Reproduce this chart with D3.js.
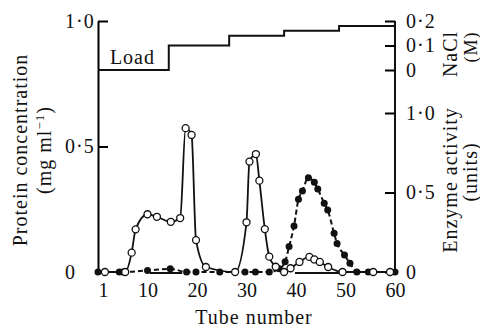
<!DOCTYPE html>
<html lang="en">
<head>
    <meta charset="UTF-8">
    <title>Ion-exchange elution profile</title>
    <script src="https://d3js.org/d3.v7.min.js"></script>
    <style>
        body { margin: 0; background: #fff; }
        text { font-family: "Liberation Serif", "DejaVu Serif", serif; fill: #111; }
    </style>
</head>
<body>
    <svg id="chart" width="480" height="329"></svg>

    <script>
        // protein (open circles, solid line)
        const proteinTube = [1.4, 5.5, 6.8, 7.6, 10, 11.9, 14.7, 16.6, 17.7, 18.9, 19.8, 21.8, 27.7,
                             30, 30.6, 31.9, 32.6, 33.7, 34.6, 35.9, 37.6, 38.9, 40.7, 42.7, 43.7,
                             44.8, 46.5, 49.4, 55.6, 59];
        const proteinConc = [0, 0, 0.077, 0.17, 0.23, 0.22, 0.2, 0.215, 0.573, 0.546, 0.127, 0.02, 0,
                             0.198, 0.44, 0.47, 0.364, 0.171, 0.061, 0.021, 0, 0.015, 0.04, 0.06, 0.05,
                             0.04, 0.02, 0, 0, 0];

        // enzyme activity (filled circles, dashed line)
        const enzymeTube = [0, 4.3, 5, 10, 14.6, 17.9, 19.8, 24.6, 29.7, 31.8, 34.6, 36.6, 37.8, 38.6,
                            39.6, 40.5, 41.3, 42.5, 43.7, 44.4, 45.7, 46.4, 47.7, 48.3, 49.8, 50.9,
                            52.3, 54.6, 60];
        const enzymeAct = [0, 0, 0, 0.01, 0.02, 0, 0, 0, 0, 0, 0, 0.02, 0.065, 0.16,
                           0.29, 0.457, 0.51, 0.593, 0.564, 0.522, 0.432, 0.39, 0.243, 0.18, 0.107, 0.055,
                           0, 0, 0];

        // NaCl step gradient
        const naclTube = [0, 14.3, 26.5, 37.6, 48.7, 60];
        const naclConc = [0, 0.1, 0.14, 0.16, 0.18, 0.18];

        // pooled fractions bars
        const pools = [[10.5, 17], [39.8, 48.9]];

        const tubeTicks = [1, 10, 20, 30, 40, 50, 60];
        const proteinTicks = [0, 0.5, 1.0];
        const enzymeTicks = [0, 0.5, 1.0];
        const naclTicks = [0, 0.1, 0.2];

        const svg = d3.select("#chart");
        const fmt = d => d === 0 ? "0" : d3.format(".1f")(d).replace(".", "·");

        const x = d3.scaleLinear().domain([0, 60]).range([98, 395]);
        const yProt = d3.scaleLinear().domain([0, 1]).range([272, 21]);
        const yEnz = d3.scaleLinear().domain([0, 1]).range([272, 113]);
        const yNacl = d3.scaleLinear().domain([0, 0.2]).range([70, 21]);

        // left axis
        const leftAxis = svg.append("g")
            .attr("transform", `translate(${x(0)},0)`)
            .call(d3.axisLeft(yProt).tickValues(proteinTicks).tickSize(-10).tickSizeOuter(0).tickFormat(fmt));
        leftAxis.select(".domain").attr("stroke-width", 2);
        leftAxis.selectAll(".tick line").attr("stroke-width", 2);
        leftAxis.selectAll(".tick text")
            .attr("x", 65 - x(0)).attr("text-anchor", "start")
            .style("font-size", "20px").style("letter-spacing", "1px");

        // right axis line
        svg.append("line")
            .attr("x1", x(60)).attr("x2", x(60))
            .attr("y1", yProt(0)).attr("y2", yProt(1))
            .attr("stroke", "#111").attr("stroke-width", 2);

        function rightAxis(scale, ticks) {
            const g = svg.append("g")
                .attr("transform", `translate(${x(60)},0)`)
                .call(d3.axisRight(scale).tickValues(ticks).tickSize(-10).tickSizeOuter(0).tickFormat(fmt));
            g.select(".domain").remove();
            g.selectAll(".tick line").attr("stroke-width", 2);
            g.selectAll(".tick text")
                .attr("x", 11).attr("text-anchor", "start")
                .style("font-size", "20px").style("letter-spacing", "1px");
        }
        rightAxis(yNacl, naclTicks);
        rightAxis(yEnz, enzymeTicks);

        // bottom tick labels only
        const bottom = svg.append("g")
            .attr("transform", `translate(0,${yProt(0)})`)
            .call(d3.axisBottom(x).tickValues(tubeTicks).tickSize(0).tickFormat(d3.format("d")));
        bottom.select(".domain").remove();
        bottom.selectAll(".tick text")
            .attr("y", 25).attr("dy", 0)
            .style("font-size", "20px");

        // NaCl gradient
        const naclLine = d3.line()
            .x((d, i) => x(naclTube[i]))
            .y(d => yNacl(d))
            .curve(d3.curveStepAfter);
        svg.append("path")
            .datum(naclConc)
            .attr("d", naclLine)
            .attr("fill", "none").attr("stroke", "#111").attr("stroke-width", 2);

        svg.append("text")
            .attr("x", x(2.4)).attr("y", yNacl(0) - 6)
            .style("font-size", "20px").style("letter-spacing", "1px")
            .text("Load");

        // pooled bars
        svg.selectAll("line.pool").data(pools).join("line")
            .attr("class", "pool")
            .attr("x1", d => x(d[0])).attr("x2", d => x(d[1]))
            .attr("y1", yProt(0) + 1).attr("y2", yProt(0) + 1)
            .attr("stroke", "#111").attr("stroke-width", 2);

        // enzyme
        const enzLine = d3.line()
            .x((d, i) => x(enzymeTube[i]))
            .y(d => yEnz(d))
            .curve(d3.curveMonotoneX);
        svg.append("path")
            .datum(enzymeAct)
            .attr("d", enzLine)
            .attr("fill", "none").attr("stroke", "#111")
            .attr("stroke-width", 2).attr("stroke-dasharray", "5,3");
        svg.selectAll("circle.enz").data(enzymeAct).join("circle")
            .attr("class", "enz")
            .attr("cx", (d, i) => x(enzymeTube[i]))
            .attr("cy", d => yEnz(d))
            .attr("r", 3.5)
            .attr("fill", "#111");

        // protein
        const protLine = d3.line()
            .x((d, i) => x(proteinTube[i]))
            .y(d => yProt(d))
            .curve(d3.curveMonotoneX);
        svg.append("path")
            .datum(proteinConc)
            .attr("d", protLine)
            .attr("fill", "none").attr("stroke", "#111").attr("stroke-width", 1.8);
        svg.selectAll("circle.prot").data(proteinConc).join("circle")
            .attr("class", "prot")
            .attr("cx", (d, i) => x(proteinTube[i]))
            .attr("cy", d => yProt(d))
            .attr("r", 3.5)
            .attr("fill", "#fff").attr("stroke", "#111").attr("stroke-width", 1.3);

        // axis titles
        function vtitle(px, py, size) {
            return svg.append("text")
                .attr("transform", `translate(${px},${py}) rotate(-90)`)
                .attr("text-anchor", "middle")
                .style("font-size", size + "px").style("letter-spacing", "1px");
        }
        vtitle(27, 150, 20).text("Protein concentration");
        const unit = vtitle(51, 150, 20);
        unit.append("tspan").text("(mg ml");
        unit.append("tspan").attr("dy", -7).style("font-size", "13px").text("−1");
        unit.append("tspan").attr("dy", 7).text(")");

        vtitle(457, 54, 20).text("NaCl");
        vtitle(477, 47, 18).text("(M)");
        vtitle(457, 180, 20).text("Enzyme activity");
        vtitle(477, 172, 20).text("(units)");

        svg.append("text")
            .attr("x", 254).attr("y", 324)
            .attr("text-anchor", "middle")
            .style("font-size", "20px").style("letter-spacing", "1px")
            .text("Tube number");
    </script>
</body>
</html>
